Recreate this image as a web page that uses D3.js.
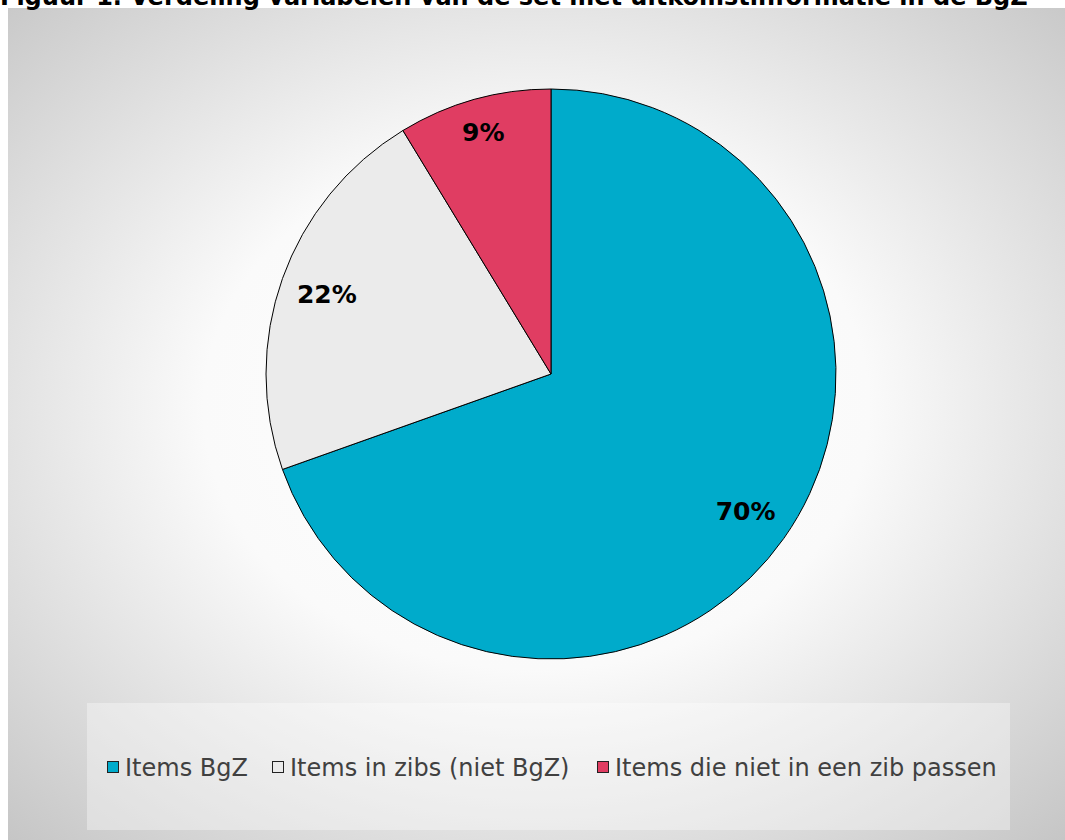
<!DOCTYPE html>
<html>
<head>
<meta charset="utf-8">
<script src="https://cdn.jsdelivr.net/npm/d3@7"></script>
<style>
  body { margin: 0; background: #fff; }
  svg { display: block; }
</style>
</head>
<body>
<div id="chart"></div>
<script>
const title = "Figuur 1. Verdeling variabelen van de set met uitkomstinformatie in de BgZ";
const categories = ["Items BgZ", "Items in zibs (niet BgZ)", "Items die niet in een zib passen"];
const values = [16, 5, 2];
const labels = ["70%", "22%", "9%"];
const colors = ["#00abcb", "#ebebeb", "#e03d62"];

const width = 1065;
const height = 840;

const svg = d3.select("#chart")
  .append("svg")
  .attr("width", width)
  .attr("height", height);

const defs = svg.append("defs");
const grad = defs.append("radialGradient")
  .attr("id", "bg")
  .attr("cx", "50%").attr("cy", "48%").attr("r", "75%");
grad.append("stop").attr("offset", "0%").attr("stop-color", "#ffffff");
grad.append("stop").attr("offset", "42%").attr("stop-color", "#fafafa");
grad.append("stop").attr("offset", "100%").attr("stop-color", "#c2c2c2");

// chart area
svg.append("rect")
  .attr("x", 8).attr("y", 8)
  .attr("width", width - 8).attr("height", height - 8)
  .attr("fill", "url(#bg)");

// title is cropped at the top, as in the original figure
svg.append("text")
  .attr("x", 0)
  .attr("y", 5)
  .attr("font-family", "DejaVu Sans, Verdana, sans-serif")
  .attr("font-weight", "bold")
  .attr("font-size", "24px")
  .attr("fill", "#000")
  .text(title);

const cx = 551, cy = 374, radius = 285;

const pie = d3.pie().sort(null).value(d => d);
const arcs = pie(values);
const arc = d3.arc().innerRadius(0).outerRadius(radius);

const g = svg.append("g")
  .attr("transform", `translate(${cx}, ${cy})`);

g.selectAll("path")
  .data(arcs)
  .enter()
  .append("path")
  .attr("d", arc)
  .attr("fill", (d, i) => colors[i])
  .attr("stroke", "#000")
  .attr("stroke-width", 1);

// labels placed inside the outer edge
const labelText = g.selectAll("text.lbl")
  .data(arcs)
  .enter()
  .append("text")
  .attr("class", "lbl")
  .attr("text-anchor", "middle")
  .attr("dominant-baseline", "central")
  .attr("font-family", "DejaVu Sans, Verdana, sans-serif")
  .attr("font-weight", "bold")
  .attr("font-size", "25px")
  .attr("fill", "#000")
  .text((d, i) => labels[i]);

labelText.each(function (d) {
  const box = this.getBBox();
  const a = (d.startAngle + d.endAngle) / 2;
  const sx = Math.sin(a), sy = -Math.cos(a);
  const ext = Math.abs(sx) * box.width / 2 + Math.abs(sy) * box.height / 2;
  const r = radius - ext - 14;
  d3.select(this).attr("x", sx * r).attr("y", sy * r);
});

// legend
svg.append("rect")
  .attr("x", 87).attr("y", 703)
  .attr("width", 923).attr("height", 127)
  .attr("fill", "#ffffff")
  .attr("fill-opacity", 0.35);

const legendX = [107, 272, 597];
const legend = svg.selectAll("g.leg")
  .data(categories)
  .enter()
  .append("g")
  .attr("class", "leg")
  .attr("transform", (d, i) => `translate(${legendX[i]}, 767)`);

legend.append("rect")
  .attr("x", 0.5).attr("y", -5.5)
  .attr("width", 11).attr("height", 11)
  .attr("fill", (d, i) => colors[i])
  .attr("stroke", "#222")
  .attr("stroke-width", 1);

legend.append("text")
  .attr("x", 18)
  .attr("y", 1)
  .attr("dominant-baseline", "central")
  .attr("font-family", "DejaVu Sans, Verdana, sans-serif")
  .attr("font-size", "24px")
  .attr("fill", "#404040")
  .text(d => d);
</script>
</body>
</html>
